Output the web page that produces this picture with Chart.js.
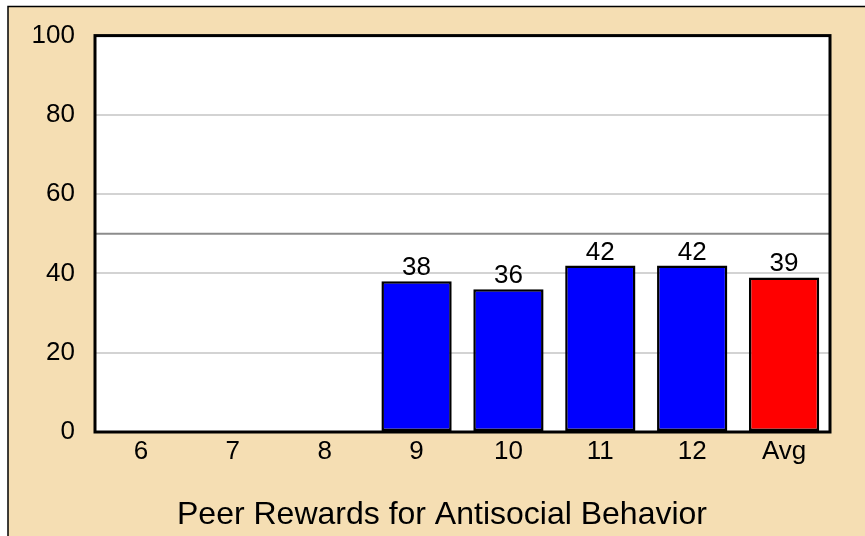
<!DOCTYPE html>
<html>
<head>
<meta charset="utf-8">
<script src="https://cdn.jsdelivr.net/npm/chart.js@4/dist/chart.umd.min.js"></script>
<style>
html, body { margin: 0; padding: 0; background: #fff; }
</style>
</head>
<body>
<canvas id="chart" width="865" height="536"></canvas>
<script>
const grades = ["6", "7", "8", "9", "10", "11", "12", "Avg"]
const scores = [null, null, null, 38, 36, 42, 42, 39]
const yTicks = [0, 20, 40, 60, 80, 100]
const refLine = 50
const chartTitle = "Peer Rewards for Antisocial Behavior"

const barColors = grades.map(g => g == "Avg" ? "#ff0000" : "#0000ff")
const FONT = "'Liberation Sans', Arial, sans-serif"
Chart.defaults.font.family = FONT

// wheat panel, white plot area, reference line, frame, labels, title
const decor = {
    id: "decor",
    beforeDraw(chart) {
        const ctx = chart.ctx
        const a = chart.chartArea
        ctx.save()
        ctx.fillStyle = "#fff"
        ctx.fillRect(0, 0, chart.width, chart.height)
        ctx.fillStyle = "#f5deb3"
        ctx.fillRect(8, 6, chart.width - 8, chart.height - 6)
        ctx.strokeStyle = "#000"
        ctx.lineWidth = 1.5
        ctx.beginPath()
        ctx.moveTo(8, chart.height)
        ctx.lineTo(8, 6.5)
        ctx.lineTo(chart.width, 6.5)
        ctx.stroke()
        ctx.fillStyle = "#fff"
        ctx.fillRect(a.left, a.top, a.right - a.left, a.bottom - a.top)
        ctx.restore()
    },
    beforeDatasetsDraw(chart) {
        const ctx = chart.ctx
        const a = chart.chartArea
        const y = chart.scales.y.getPixelForValue(refLine)
        ctx.save()
        ctx.strokeStyle = "#8c8c8c"
        ctx.lineWidth = 2
        ctx.beginPath()
        ctx.moveTo(a.left, y)
        ctx.lineTo(a.right, y)
        ctx.stroke()
        ctx.restore()
    },
    afterDatasetsDraw(chart) {
        const ctx = chart.ctx
        const a = chart.chartArea
        ctx.save()
        ctx.strokeStyle = "#000"
        ctx.lineWidth = 3
        ctx.strokeRect(a.left, a.top, a.right - a.left, a.bottom - a.top)

        ctx.fillStyle = "#000"
        ctx.font = "26px " + FONT
        ctx.textAlign = "center"
        ctx.textBaseline = "alphabetic"
        chart.getDatasetMeta(0).data.forEach(function (bar, i) {
            if (scores[i] == null) return
            ctx.fillText(scores[i], bar.x, bar.y - 6)
        })

        ctx.font = "32px " + FONT
        ctx.fillText(chartTitle, 442, 524)
        ctx.restore()
    }
}

new Chart(document.getElementById("chart"), {
    type: "bar",
    data: {
        labels: grades,
        datasets: [{
            data: scores,
            backgroundColor: barColors,
            borderColor: "#000",
            borderWidth: 2.5,
            borderSkipped: false,
            barPercentage: 0.765,
            categoryPercentage: 1
        }]
    },
    options: {
        responsive: false,
        animation: false,
        events: [],
        layout: { padding: { top: 33, right: 35, left: 0, bottom: 0 } },
        plugins: {
            legend: { display: false },
            tooltip: { enabled: false }
        },
        scales: {
            x: {
                grid: { display: false },
                border: { display: false },
                ticks: { color: "#000", font: { size: 26 }, padding: -4 },
                afterFit(scale) { scale.height = 104 }
            },
            y: {
                min: 0,
                max: 100,
                afterBuildTicks(scale) { scale.ticks = yTicks.map(v => ({ value: v })) },
                grid: { color: "#d3d3d3", lineWidth: 2, drawTicks: false },
                border: { display: false },
                ticks: { color: "#000", font: { size: 26 }, padding: 20 },
                afterFit(scale) { scale.width = 95 }
            }
        }
    },
    plugins: [decor]
})
</script>
</body>
</html>
